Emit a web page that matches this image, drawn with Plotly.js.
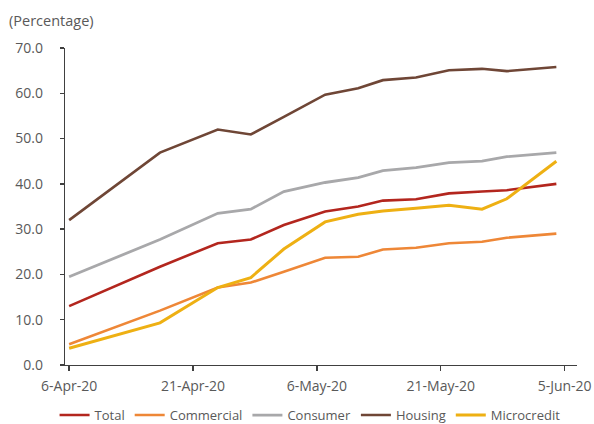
<!DOCTYPE html>
<html>
<head>
<meta charset="utf-8">
<script src="https://cdn.plot.ly/plotly-3.0.1.min.js"></script>
<style>html,body{margin:0;padding:0;background:#fff;}#chart{width:594px;height:424px;}</style>
</head>
<body>
<div id="chart"></div>
<script>
const dates = ['2020-04-06','2020-04-17','2020-04-24','2020-04-28','2020-05-02','2020-05-07','2020-05-11','2020-05-14','2020-05-18','2020-05-22','2020-05-26','2020-05-29','2020-06-04'];
const total       = [13.0, 21.7, 26.9, 27.7, 30.9, 33.9, 35.0, 36.3, 36.6, 37.9, 38.3, 38.6, 40.0];
const commercial  = [4.6, 12.0, 17.1, 18.2, 20.6, 23.7, 23.9, 25.5, 25.9, 26.9, 27.2, 28.1, 29.0];
const consumer    = [19.5, 27.7, 33.5, 34.4, 38.3, 40.3, 41.4, 42.9, 43.6, 44.7, 45.0, 46.0, 46.9];
const housing     = [32.0, 46.9, 52.0, 50.9, 54.8, 59.7, 61.1, 62.9, 63.5, 65.1, 65.4, 64.9, 65.8];
const microcredit = [3.7, 9.3, 17.1, 19.3, 25.6, 31.6, 33.3, 34.0, 34.6, 35.3, 34.4, 36.7, 45.0];
const tickDates = ['2020-04-06','2020-04-21','2020-05-06','2020-05-21','2020-06-05'];
const tickLabels = ['6-Apr-20','21-Apr-20','6-May-20','21-May-20','5-Jun-20'];
const yTicks = [0,10,20,30,40,50,60,70];

const series = [
  {name:'Total', y: total, color:'#B3261E', w:2.6},
  {name:'Commercial', y: commercial, color:'#EE8737', w:2.6},
  {name:'Consumer', y: consumer, color:'#A8A8AA', w:2.8},
  {name:'Housing', y: housing, color:'#6F4636', w:2.6},
  {name:'Microcredit', y: microcredit, color:'#EEB013', w:3.0}
];
const traces = series.map(s => ({
  type:'scatter', mode:'lines', name:s.name, x: dates, y: s.y,
  line:{color:s.color, width:s.w}, hoverinfo:'skip'
}));

const fam = '"Open Sans", "Noto Sans", sans-serif';
const layout = {
  width:594, height:424,
  margin:{l:65, r:17, t:48, b:59, autoexpand:false},
  paper_bgcolor:'#fff', plot_bgcolor:'#fff',
  font: {family:fam, size:14, color:'#595959'},
  showlegend:true,
  legend:{orientation:'h', xref:'container', yref:'container', x:0.522, xanchor:'center', y:0.021, yanchor:'middle',
          font:{family:fam, size:13, color:'#595959'}, itemwidth:30, tracegroupgap:0, bgcolor:'rgba(0,0,0,0)'},
  xaxis:{type:'date', range:['2020-04-05 12:00','2020-06-06 12:00'],
         tickmode:'array', tickvals: tickDates, ticktext: tickLabels,
         showgrid:false, zeroline:false, showline:true, linecolor:'#404040', linewidth:1.3,
         ticks:'outside', ticklen:5, tickcolor:'#404040', tickwidth:1.3,
         ticklabelstandoff:3, tickfont:{size:14, color:'#595959'}},
  yaxis:{range:[0,70], tickmode:'array', tickvals: yTicks, ticktext: yTicks.map(v=>v.toFixed(1)),
         showgrid:false, zeroline:false, showline:true, linecolor:'#404040', linewidth:1.3,
         ticks:'outside', ticklen:4, tickcolor:'#404040', tickwidth:1.3,
         ticklabelstandoff:14, tickfont:{size:14, color:'#595959'}},
  annotations:[{text:'(Percentage)', xref:'paper', yref:'paper', x:-0.113, y:1.088,
                xanchor:'left', yanchor:'middle', showarrow:false,
                font:{family:fam, size:14.5, color:'#595959'}}]
};
Plotly.newPlot('chart', traces, layout, {staticPlot:true, displayModeBar:false});
</script>
</body>
</html>
